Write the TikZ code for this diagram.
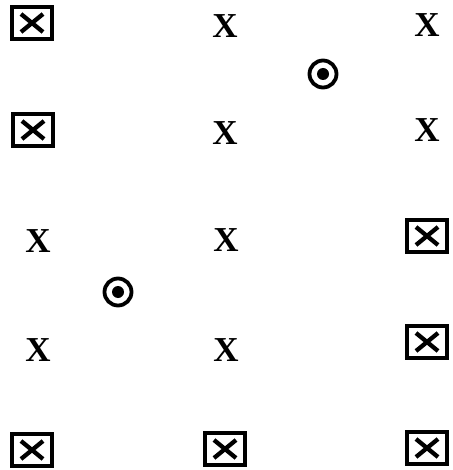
\documentclass[tikz,border=0pt]{standalone}
\usepackage{fontspec}
\setmainfont{Liberation Serif}
\begin{document}
\begin{tikzpicture}[x=1pt,y=-1pt,
  bx/.style={draw=black,line width=4.2pt,minimum width=40pt,minimum height=32pt,inner sep=0pt,
    path picture={\draw[line width=4.3pt] ([xshift=-11pt,yshift=-9pt]path picture bounding box.center) -- ([xshift=11pt,yshift=9pt]path picture bounding box.center);
                  \draw[line width=4.3pt] ([xshift=-11pt,yshift=9pt]path picture bounding box.center) -- ([xshift=11pt,yshift=-9pt]path picture bounding box.center);}},
  px/.style={inner sep=0pt,font=\fontsize{35}{35}\selectfont\bfseries},
  cd/.style={circle,draw=black,line width=3.8pt,minimum size=27pt,inner sep=0pt,
    path picture={\fill (path picture bounding box.center) circle (6pt);}}]
\useasboundingbox (0,0) rectangle (452,470);
\node[bx] (b1) at (32,23) {};
\node[bx] (b2) at (33,130) {};
\node[bx] (b3) at (427,236) {};
\node[bx] (b4) at (427,342) {};
\node[bx] (b5) at (32,450) {};
\node[bx] (b6) at (225,449) {};
\node[bx] (b7) at (427,448) {};
\node[px] (x1) at (225,26) {X};
\node[px] (x2) at (427,25) {X};
\node[px] (x3) at (225,133) {X};
\node[px] (x4) at (427,130) {X};
\node[px] (x5) at (38,241) {X};
\node[px] (x6) at (226,240) {X};
\node[px] (x7) at (38,350) {X};
\node[px] (x8) at (226,350) {X};
\node[cd] (c1) at (323,74) {};
\node[cd] (c2) at (118,292) {};
\end{tikzpicture}
\end{document}
